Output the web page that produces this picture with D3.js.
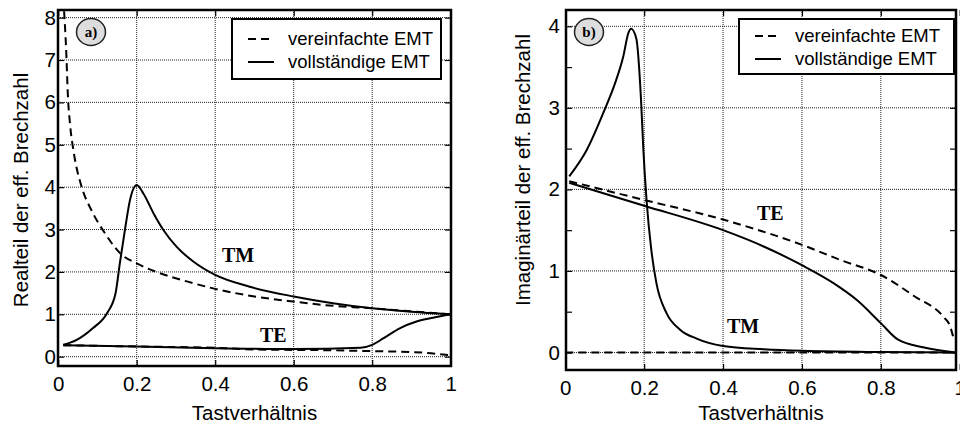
<!DOCTYPE html>
<html>
<head>
<meta charset="utf-8">
<script src="https://cdn.jsdelivr.net/npm/d3@7"></script>
<style>
  body { margin: 0; background: #fff; }
  svg { display: block; font-family: "Liberation Sans", Arial, sans-serif; }
</style>
</head>
<body>
<div id="chart"></div>
<script>
// Achsen
var xTicks = [0, 0.2, 0.4, 0.6, 0.8, 1];
var xTickLabels = ["0", "0.2", "0.4", "0.6", "0.8", "1"];
var yTicksReal = [0, 1, 2, 3, 4, 5, 6, 7, 8];
var yTicksImag = [0, 1, 2, 3, 4];
var yMinorImag = [0.5, 1.5, 2.5, 3.5];
var legendLabels = ["vereinfachte EMT", "vollständige EMT"];

// a) Realteil  [Tastverhältnis, Wert]
var realTmVereinfacht = [[0.015, 8.15], [0.02, 7.3], [0.025, 6.1], [0.03, 5.5], [0.04, 4.8], [0.06, 4.0],
  [0.085, 3.45], [0.12, 2.9], [0.16, 2.42], [0.2, 2.2], [0.25, 2.0], [0.33, 1.77], [0.4, 1.6],
  [0.5, 1.42], [0.6, 1.3], [0.7, 1.2], [0.8, 1.14], [0.9, 1.07], [1.0, 1.0]];
var realTmVollst = [[0.013, 0.28], [0.046, 0.39], [0.088, 0.67], [0.124, 1.02], [0.146, 1.49], [0.157, 2.2],
  [0.17, 2.99], [0.183, 3.7], [0.2, 4.05], [0.217, 3.85], [0.243, 3.38], [0.268, 2.99], [0.302, 2.59],
  [0.345, 2.24], [0.4, 1.93], [0.488, 1.65], [0.6, 1.42], [0.7, 1.26], [0.8, 1.14], [0.9, 1.06], [1.0, 1.0]];
var realTeVereinfacht = [[0.013, 0.27], [0.2, 0.24], [0.4, 0.21], [0.5, 0.17], [0.6, 0.16], [0.7, 0.15],
  [0.8, 0.13], [0.9, 0.11], [0.95, 0.08], [1.0, 0.03]];
var realTeVollst = [[0.013, 0.27], [0.2, 0.24], [0.4, 0.2], [0.6, 0.18], [0.77, 0.21], [0.8, 0.28],
  [0.828, 0.43], [0.87, 0.67], [0.913, 0.83], [0.955, 0.92], [1.0, 1.0]];

// b) Imaginärteil
var imagTmVereinfacht = [[0.0, 0.0], [0.5, 0.0], [1.0, 0.0]];
var imagTmVollst = [[0.01, 2.16], [0.054, 2.48], [0.1, 2.98], [0.126, 3.3], [0.147, 3.63], [0.16, 3.92],
  [0.167, 3.97], [0.18, 3.85], [0.192, 3.1], [0.198, 2.48], [0.206, 1.87], [0.218, 1.26], [0.231, 0.85],
  [0.257, 0.48], [0.291, 0.28], [0.333, 0.17], [0.4, 0.08], [0.503, 0.04], [0.6, 0.02], [0.8, 0.005], [1.0, 0.0]];
var imagTeVereinfacht = [[0.01, 2.1], [0.2, 1.87], [0.4, 1.63], [0.6, 1.32], [0.7, 1.13], [0.8, 0.95],
  [0.885, 0.69], [0.96, 0.43], [0.975, 0.33], [0.983, 0.2]];
var imagTeVollst = [[0.01, 2.08], [0.2, 1.8], [0.4, 1.5], [0.503, 1.3], [0.6, 1.07], [0.68, 0.85],
  [0.74, 0.64], [0.8, 0.36], [0.843, 0.16], [0.91, 0.06], [0.99, 0.0]];

var svg = d3.select("#chart").append("svg")
  .attr("width", 960)
  .attr("height", 428);

function panel(p) {
  var x = d3.scaleLinear().domain([0, 1]).range(p.xRange);
  var y = d3.scaleLinear().domain(p.yDomain).range([p.box.bottom, p.box.top]);
  var g = svg.append("g");
  var w = p.box.right - p.box.left, h = p.box.bottom - p.box.top;

  g.append("clipPath").attr("id", "clip-" + p.id)
    .append("rect").attr("x", p.box.left).attr("y", p.box.top).attr("width", w).attr("height", h);

  // Gitter (gepunktet)
  g.selectAll(".gx").data(xTicks.slice(1, -1)).enter().append("line")
    .attr("x1", x).attr("x2", x).attr("y1", p.box.top).attr("y2", p.box.bottom)
    .attr("stroke", "#222").attr("stroke-width", 1).attr("stroke-dasharray", "1,1");
  g.selectAll(".gy").data(p.yTicks).enter().append("line")
    .attr("x1", p.box.left).attr("x2", p.box.right).attr("y1", y).attr("y2", y)
    .attr("stroke", "#222").attr("stroke-width", 1).attr("stroke-dasharray", "1,1");

  // Achsen (Beschriftung + Ticks nach innen)
  g.append("g").attr("transform", "translate(0," + p.box.bottom + ")")
    .call(d3.axisBottom(x).tickValues(xTicks).tickFormat(function(d, i) { return xTickLabels[i]; })
      .tickSize(-6).tickPadding(p.xPad))
    .call(function(a) { a.select(".domain").remove(); });
  g.append("g").attr("transform", "translate(" + p.box.left + ",0)")
    .call(d3.axisLeft(y).tickValues(p.yTicks).tickFormat(d3.format("d")).tickSize(-6).tickPadding(p.yPad))
    .call(function(a) { a.select(".domain").remove(); });
  g.append("g").attr("transform", "translate(" + p.box.right + ",0)")
    .call(d3.axisRight(y).tickValues(p.yTicks.concat(p.yMinor || [])).tickSize(-6).tickFormat(""))
    .call(function(a) { a.select(".domain").remove(); });
  if (p.yMinor) {
    g.append("g").attr("transform", "translate(" + p.box.left + ",0)")
      .call(d3.axisLeft(y).tickValues(p.yMinor).tickSize(-6).tickFormat(""))
      .call(function(a) { a.select(".domain").remove(); });
  }
  g.append("g").attr("transform", "translate(0," + p.box.top + ")")
    .call(d3.axisTop(x).tickValues(xTicks).tickSize(-6).tickFormat(""))
    .call(function(a) { a.select(".domain").remove(); });
  g.selectAll(".tick text").attr("font-size", 20.5).attr("fill", "#000")
    .attr("font-family", "Liberation Sans, Arial, sans-serif");
  g.selectAll(".tick line").attr("stroke", "#000").attr("stroke-width", 1.2);

  // Kurven
  var line = d3.line().x(function(d) { return x(d[0]); }).y(function(d) { return y(d[1]); })
    .curve(d3.curveMonotoneX);
  var curves = g.append("g").attr("clip-path", "url(#clip-" + p.id + ")");
  p.series.forEach(function(s) {
    curves.append("path").datum(s.data).attr("d", line)
      .attr("fill", "none").attr("stroke", "#000").attr("stroke-width", 2)
      .attr("stroke-dasharray", s.dashed ? "8,5" : null);
  });

  // Rahmen
  g.append("rect").attr("x", p.box.left).attr("y", p.box.top).attr("width", w).attr("height", h)
    .attr("fill", "none").attr("stroke", "#000").attr("stroke-width", 2.5);

  // Legende
  var L = p.legend;
  g.append("rect").attr("x", L.x).attr("y", L.y).attr("width", L.w).attr("height", L.h)
    .attr("fill", "#fff").attr("stroke", "#000").attr("stroke-width", 2);
  legendLabels.forEach(function(t, i) {
    var yy = L.rows[i];
    g.append("line").attr("x1", L.x + 16).attr("x2", L.x + 42).attr("y1", yy).attr("y2", yy)
      .attr("stroke", "#000").attr("stroke-width", 2).attr("stroke-dasharray", i === 0 ? "8,5" : null);
    g.append("text").attr("x", L.tx).attr("y", yy).attr("dy", "0.35em")
      .attr("font-size", 18.5).text(t);
  });

  // Marke a) / b)
  g.append("ellipse").attr("cx", p.mark[0]).attr("cy", p.mark[1]).attr("rx", 14.5).attr("ry", 13.5)
    .attr("fill", "#ddd").attr("stroke", "#222").attr("stroke-width", 1.5);
  g.append("text").attr("x", p.mark[0]).attr("y", p.mark[1]).attr("dy", "0.35em")
    .attr("text-anchor", "middle").attr("font-family", "Liberation Serif, Times New Roman, serif")
    .attr("font-weight", "bold").attr("font-size", 15).text(p.markText);

  // TM / TE
  p.notes.forEach(function(n) {
    g.append("text").attr("x", n[0]).attr("y", n[1])
      .attr("font-family", "Liberation Serif, Times New Roman, serif")
      .attr("font-weight", "bold").attr("font-size", 20).text(n[2]);
  });

  // Achsentitel
  g.append("text").attr("x", (p.box.left + p.box.right) / 2).attr("y", 420)
    .attr("text-anchor", "middle").attr("font-size", 20.5).text("Tastverhältnis");
  g.append("text").attr("transform", "translate(" + p.yTitle[0] + "," + p.yTitle[1] + ") rotate(-90)")
    .attr("text-anchor", "middle").attr("font-size", 20.5).text(p.yTitleText);
}

panel({
  id: "a",
  box: { left: 58, right: 451, top: 10, bottom: 366 },
  xRange: [58.2, 450.7],
  yDomain: [-0.22, 8.18],
  yTicks: yTicksReal,
  xPad: 10, yPad: 2,
  series: [
    { data: realTmVereinfacht, dashed: true },
    { data: realTeVereinfacht, dashed: true },
    { data: realTmVollst, dashed: false },
    { data: realTeVollst, dashed: false }
  ],
  legend: { x: 232, y: 19, w: 209, h: 60, rows: [39, 62], tx: 288 },
  mark: [91, 32], markText: "a)",
  notes: [[222, 262, "TM"], [260, 342, "TE"]],
  yTitle: [28, 190], yTitleText: "Realteil der eff. Brechzahl"
});

panel({
  id: "b",
  box: { left: 566, right: 956, top: 10, bottom: 370 },
  xRange: [565.3, 959.7],
  yDomain: [-0.215, 4.2],
  yTicks: yTicksImag,
  yMinor: yMinorImag,
  xPad: 10, yPad: 6,
  series: [
    { data: imagTmVereinfacht, dashed: true },
    { data: imagTeVereinfacht, dashed: true },
    { data: imagTmVollst, dashed: false },
    { data: imagTeVollst, dashed: false }
  ],
  legend: { x: 739, y: 19, w: 215, h: 55, rows: [36, 59], tx: 795 },
  mark: [589, 32], markText: "b)",
  notes: [[727, 333, "TM"], [757, 220, "TE"]],
  yTitle: [530, 170], yTitleText: "Imaginärteil der eff. Brechzahl"
});
</script>
</body>
</html>
